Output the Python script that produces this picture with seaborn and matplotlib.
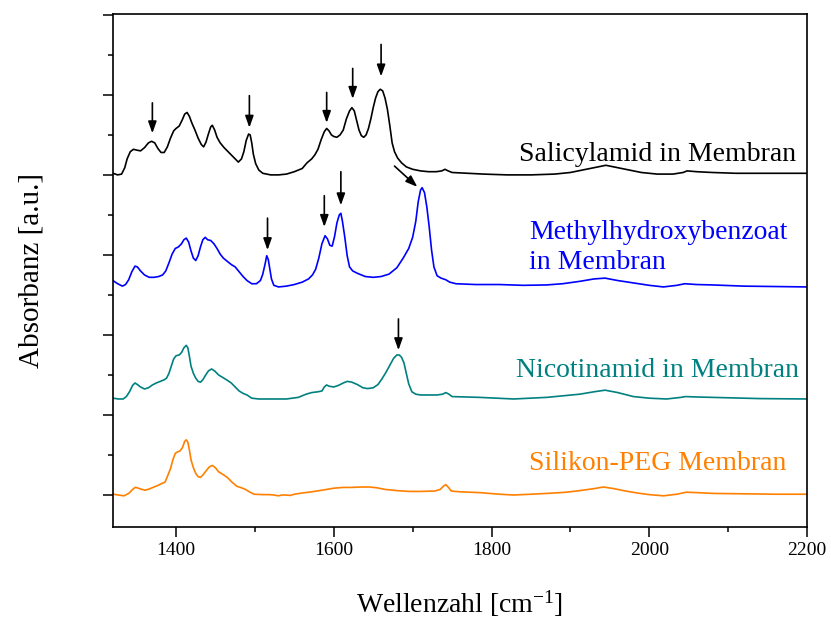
import numpy as np
import pandas as pd
import matplotlib
matplotlib.use("Agg")
import matplotlib.pyplot as plt
import seaborn as sns

# ---- spectra (wavenumber in cm^-1, stacked absorbance in a.u.) ----
sal_wn = [1320, 1326, 1331, 1335, 1338, 1342, 1346, 1350, 1355, 1360, 1365, 1369, 1373, 1377,
          1381, 1385, 1389, 1393, 1397, 1400, 1404, 1408, 1411, 1414, 1417, 1420, 1424, 1428,
          1432, 1435, 1438, 1441, 1444, 1446, 1449, 1452, 1456, 1461, 1467, 1473, 1479, 1483,
          1486, 1489, 1492, 1494, 1496, 1498, 1501, 1505, 1510, 1520, 1530, 1540, 1550, 1560,
          1566, 1572, 1576, 1580, 1584, 1588, 1591, 1594, 1597, 1600, 1604, 1608, 1612, 1616,
          1620, 1623, 1626, 1629, 1632, 1635, 1638, 1641, 1644, 1647, 1650, 1653, 1656, 1659,
          1662, 1665, 1668, 1671, 1674, 1677, 1681, 1686, 1692, 1700, 1710, 1720, 1730, 1737,
          1741, 1745, 1750, 1770, 1790, 1820, 1850, 1880, 1900, 1915, 1930, 1945, 1960, 1975,
          1990, 2010, 2030, 2043, 2048, 2060, 2080, 2110, 2150, 2200]
sal_abs = [40.2, 40.0, 40.1, 40.9, 42.0, 42.9, 43.2, 43.1, 43.0, 43.4, 44.0, 44.2, 44.0, 43.3,
           42.8, 42.8, 43.5, 44.6, 45.5, 45.8, 46.1, 46.9, 47.6, 47.8, 47.3, 46.5, 45.6, 44.6,
           43.8, 43.5, 44.1, 45.1, 46.0, 46.2, 45.6, 44.7, 44.0, 43.4, 42.8, 42.2, 41.6, 42.0,
           42.9, 44.3, 45.1, 45.0, 44.0, 42.6, 41.4, 40.6, 40.2, 40.0, 40.0, 40.1, 40.4, 40.8,
           41.5, 42.0, 42.5, 43.2, 44.4, 45.4, 45.8, 45.5, 45.0, 44.8, 44.7, 45.0, 45.6, 47.0,
           48.0, 48.4, 48.0, 46.8, 45.6, 44.9, 44.7, 45.0, 45.8, 47.0, 48.4, 49.6, 50.4, 50.7,
           50.5, 49.6, 48.2, 46.2, 44.0, 42.9, 42.1, 41.5, 41.0, 40.7, 40.5, 40.4, 40.4, 40.5,
           40.7, 40.5, 40.3, 40.2, 40.1, 40.0, 40.0, 40.1, 40.3, 40.6, 40.9, 41.2, 40.9, 40.6,
           40.3, 40.1, 40.1, 40.3, 40.5, 40.4, 40.3, 40.2, 40.2, 40.2]

mhb_wn = [1320, 1326, 1332, 1336, 1340, 1344, 1348, 1351, 1355, 1360, 1366, 1372, 1378, 1383,
          1387, 1391, 1395, 1399, 1403, 1407, 1410, 1413, 1416, 1419, 1422, 1425, 1428, 1431,
          1434, 1437, 1440, 1444, 1448, 1452, 1456, 1460, 1465, 1470, 1475, 1480, 1485, 1490,
          1496, 1502, 1507, 1510, 1513, 1515, 1517, 1519, 1521, 1524, 1530, 1540, 1550, 1560,
          1568, 1573, 1577, 1581, 1585, 1589, 1592, 1595, 1598, 1601, 1604, 1607, 1609, 1611,
          1614, 1617, 1620, 1624, 1630, 1640, 1650, 1660, 1670, 1680, 1688, 1695, 1700, 1704,
          1707, 1710, 1712, 1715, 1718, 1721, 1724, 1727, 1731, 1736, 1742, 1747, 1755, 1780,
          1810, 1840, 1870, 1890, 1912, 1930, 1944, 1960, 1980, 2000, 2018, 2035, 2045, 2060,
          2080, 2120, 2160, 2200]
mhb_abs = [26.8, 26.4, 26.1, 26.3, 26.9, 27.9, 28.6, 28.5, 28.0, 27.5, 27.2, 27.2, 27.3, 27.5,
           28.0, 29.0, 30.1, 30.8, 31.0, 31.4, 31.9, 32.1, 31.6, 30.5, 29.6, 29.3, 29.9, 31.0,
           31.9, 32.2, 31.9, 31.8, 31.4, 30.8, 30.1, 29.6, 29.2, 28.8, 28.5, 27.9, 27.3, 26.8,
           26.4, 26.4, 26.8, 27.6, 28.9, 29.9, 29.4, 28.2, 27.0, 26.2, 26.0, 26.1, 26.3, 26.6,
           27.0, 27.5, 28.2, 29.6, 31.4, 32.4, 32.0, 31.2, 31.1, 32.3, 34.0, 35.0, 35.2, 34.2,
           32.2, 29.9, 28.5, 28.0, 27.7, 27.3, 27.2, 27.3, 27.6, 28.4, 29.6, 30.8, 32.2, 34.2,
           36.6, 38.1, 38.4, 37.8, 36.0, 33.5, 30.6, 28.5, 27.4, 27.1, 26.9, 26.6, 26.4, 26.3,
           26.3, 26.2, 26.25, 26.4, 26.7, 27.0, 27.1, 26.8, 26.5, 26.2, 26.0, 26.2, 26.4, 26.3,
           26.25, 26.1, 26.05, 26.0]

nic_wn = [1320, 1327, 1333, 1337, 1341, 1345, 1348, 1351, 1355, 1360, 1365, 1370, 1375, 1380,
          1385, 1388, 1391, 1394, 1397, 1400, 1404, 1407, 1410, 1413, 1415, 1417, 1419, 1422,
          1425, 1428, 1431, 1434, 1437, 1441, 1445, 1449, 1454, 1459, 1464, 1470, 1475, 1480,
          1485, 1490, 1496, 1505, 1520, 1540, 1555, 1565, 1572, 1580, 1585, 1588, 1591, 1594,
          1600, 1606, 1612, 1617, 1623, 1630, 1637, 1643, 1650, 1656, 1661, 1666, 1671, 1676,
          1680, 1683, 1686, 1689, 1692, 1695, 1699, 1704, 1710, 1720, 1731, 1738, 1742, 1746,
          1750, 1785, 1828, 1870, 1912, 1930, 1944, 1960, 1980, 2000, 2022, 2040, 2046, 2060,
          2080, 2140, 2200]
nic_abs = [12.1, 12.0, 12.0, 12.3, 12.9, 13.7, 14.0, 13.8, 13.5, 13.25, 13.4, 13.75, 14.0, 14.2,
           14.4, 14.6, 15.2, 16.1, 17.0, 17.4, 17.5, 17.8, 18.4, 18.7, 18.4, 17.3, 16.1, 15.2,
           14.6, 14.2, 14.1, 14.4, 14.9, 15.5, 15.75, 15.5, 15.0, 14.7, 14.4, 14.0, 13.5, 13.0,
           12.7, 12.5, 12.1, 12.0, 12.0, 12.0, 12.2, 12.6, 12.8, 12.9, 13.0, 13.5, 13.75, 13.6,
           13.5, 13.7, 14.0, 14.2, 14.1, 13.8, 13.4, 13.3, 13.4, 13.8, 14.5, 15.3, 16.2, 17.1,
           17.5, 17.5, 17.2, 16.5, 15.2, 13.9, 12.9, 12.6, 12.5, 12.5, 12.5, 12.6, 12.8, 12.6,
           12.3, 12.2, 12.0, 12.2, 12.6, 12.9, 13.1, 12.8, 12.3, 12.1, 12.0, 12.2, 12.3, 12.25,
           12.2, 12.05, 12.0]

sil_wn = [1320, 1327, 1334, 1340, 1344, 1348, 1351, 1355, 1361, 1366, 1372, 1377, 1381, 1386,
          1389, 1393, 1396, 1399, 1402, 1405, 1408, 1411, 1413, 1415, 1417, 1419, 1422, 1425,
          1428, 1431, 1434, 1438, 1442, 1446, 1450, 1454, 1459, 1465, 1471, 1477, 1483, 1488,
          1493, 1499, 1510, 1518, 1524, 1530, 1534, 1539, 1545, 1550, 1560, 1572, 1585, 1600,
          1612, 1623, 1635, 1645, 1655, 1665, 1680, 1695, 1710, 1728, 1735, 1739, 1742, 1745,
          1749, 1760, 1785, 1810, 1828, 1850, 1870, 1895, 1912, 1930, 1942, 1955, 1970, 1985,
          2000, 2018, 2035, 2047, 2060, 2081, 2120, 2160, 2200]
sil_abs = [0.1, 0.0, -0.1, 0.2, 0.6, 0.95, 0.9, 0.75, 0.6, 0.75, 1.0, 1.2, 1.4, 1.6,
           2.3, 3.3, 4.4, 5.2, 5.4, 5.5, 5.9, 6.7, 6.9, 6.6, 5.6, 4.4, 3.4, 2.7,
           2.3, 2.2, 2.5, 3.0, 3.5, 3.7, 3.4, 2.9, 2.6, 2.2, 1.6, 1.1, 0.9, 0.7,
           0.4, 0.1, 0.05, 0.05, 0.0, -0.1, 0.0, 0.0, -0.05, 0.1, 0.25, 0.4, 0.6, 0.85,
           0.95, 0.95, 1.0, 1.0, 0.9, 0.7, 0.55, 0.45, 0.45, 0.5, 0.7, 1.1, 1.3, 1.0,
           0.5, 0.4, 0.3, 0.1, 0.0, 0.1, 0.2, 0.35, 0.55, 0.8, 1.0, 0.8, 0.5, 0.25,
           0.05, -0.1, 0.1, 0.35, 0.3, 0.2, 0.15, 0.1, 0.1]

samples = ["Salicylamid in Membran", "Methylhydroxybenzoat\nin Membran",
           "Nicotinamid in Membran", "Silikon-PEG Membran"]
colors = ["#000000", "#0000FF", "#008080", "#FF8000"]
label_y = [42.6, 30.9, 15.6, 3.9]

# marked bands: position, arrow tip, arrow tail (vertical arrows)
arrow_wn = [1370, 1493, 1591, 1624, 1660, 1516, 1588, 1609, 1682]
arrow_tip = [45.2, 45.9, 46.5, 49.5, 52.3, 30.6, 33.5, 36.2, 18.1]
arrow_tail = [49.0, 49.9, 50.3, 53.3, 56.3, 34.6, 37.4, 40.4, 22.0]
# slanted arrow to the ester band
diag_tail = (1677, 41.1)
diag_tip = (1706, 38.5)

frames = []
for name, wn, ab in zip(samples,
                        [sal_wn, mhb_wn, nic_wn, sil_wn],
                        [sal_abs, mhb_abs, nic_abs, sil_abs]):
    frames.append(pd.DataFrame({"Wellenzahl": wn, "Absorbanz": ab, "Probe": name}))
df = pd.concat(frames, ignore_index=True)

sns.set_style("ticks")
plt.rcParams["font.family"] = ["Liberation Serif", "DejaVu Serif"]
plt.rcParams["mathtext.fontset"] = "custom"
plt.rcParams["mathtext.rm"] = "Liberation Serif"
plt.rcParams["mathtext.default"] = "regular"
plt.rcParams["text.color"] = "black"
plt.rcParams["axes.labelcolor"] = "black"
plt.rcParams["xtick.color"] = "black"
plt.rcParams["ytick.color"] = "black"

fig = plt.figure(figsize=(8.31, 6.18), dpi=100)
ax = fig.add_axes([0.1359, 0.1472, 0.9711 - 0.1359, 0.9773 - 0.1472])

sns.lineplot(data=df, x="Wellenzahl", y="Absorbanz", hue="Probe", palette=colors,
             hue_order=samples, estimator=None, sort=False, legend=False,
             linewidth=1.2, ax=ax)

arrow_style = dict(arrowstyle="-|>,head_length=0.7,head_width=0.25",
                   color="black", lw=1.2, mutation_scale=10, shrinkA=0, shrinkB=0)
for x, t, s in zip(arrow_wn, arrow_tip, arrow_tail):
    ax.annotate("", xy=(x, t), xytext=(x, s), arrowprops=arrow_style)
ax.annotate("", xy=diag_tip, xytext=diag_tail, arrowprops=arrow_style)

for name, c, y in zip(samples, colors, label_y):
    ax.text(2011, y, name, color=c, fontsize=20, ha="center", va="center",
            multialignment="left", linespacing=1.25)

ax.set_xlim(1320, 2200)
ax.set_ylim(-4, 60.1)
ax.set_xticks([1400, 1600, 1800, 2000, 2200])
ax.set_xticks([1500, 1700, 1900, 2100], minor=True)
ax.set_yticks(np.arange(0, 61, 10))
ax.set_yticks(np.arange(5, 60, 10), minor=True)
ax.set_yticklabels([])

ax.set_xlabel(r"Wellenzahl [cm$^{-1}$]", fontsize=20, labelpad=21)
ax.set_ylabel("Absorbanz [a.u.]", fontsize=21, labelpad=38)

for sp in ax.spines.values():
    sp.set_linewidth(1.2)
    sp.set_color("black")
ax.tick_params(axis="both", which="major", direction="out", length=7, width=1.1,
               labelsize=14, color="black", labelcolor="black", pad=4)
ax.tick_params(axis="both", which="minor", direction="out", length=3.6, width=1.1,
               color="black")
ax.tick_params(top=False, right=False)

fig.savefig("out.png", dpi=100)
